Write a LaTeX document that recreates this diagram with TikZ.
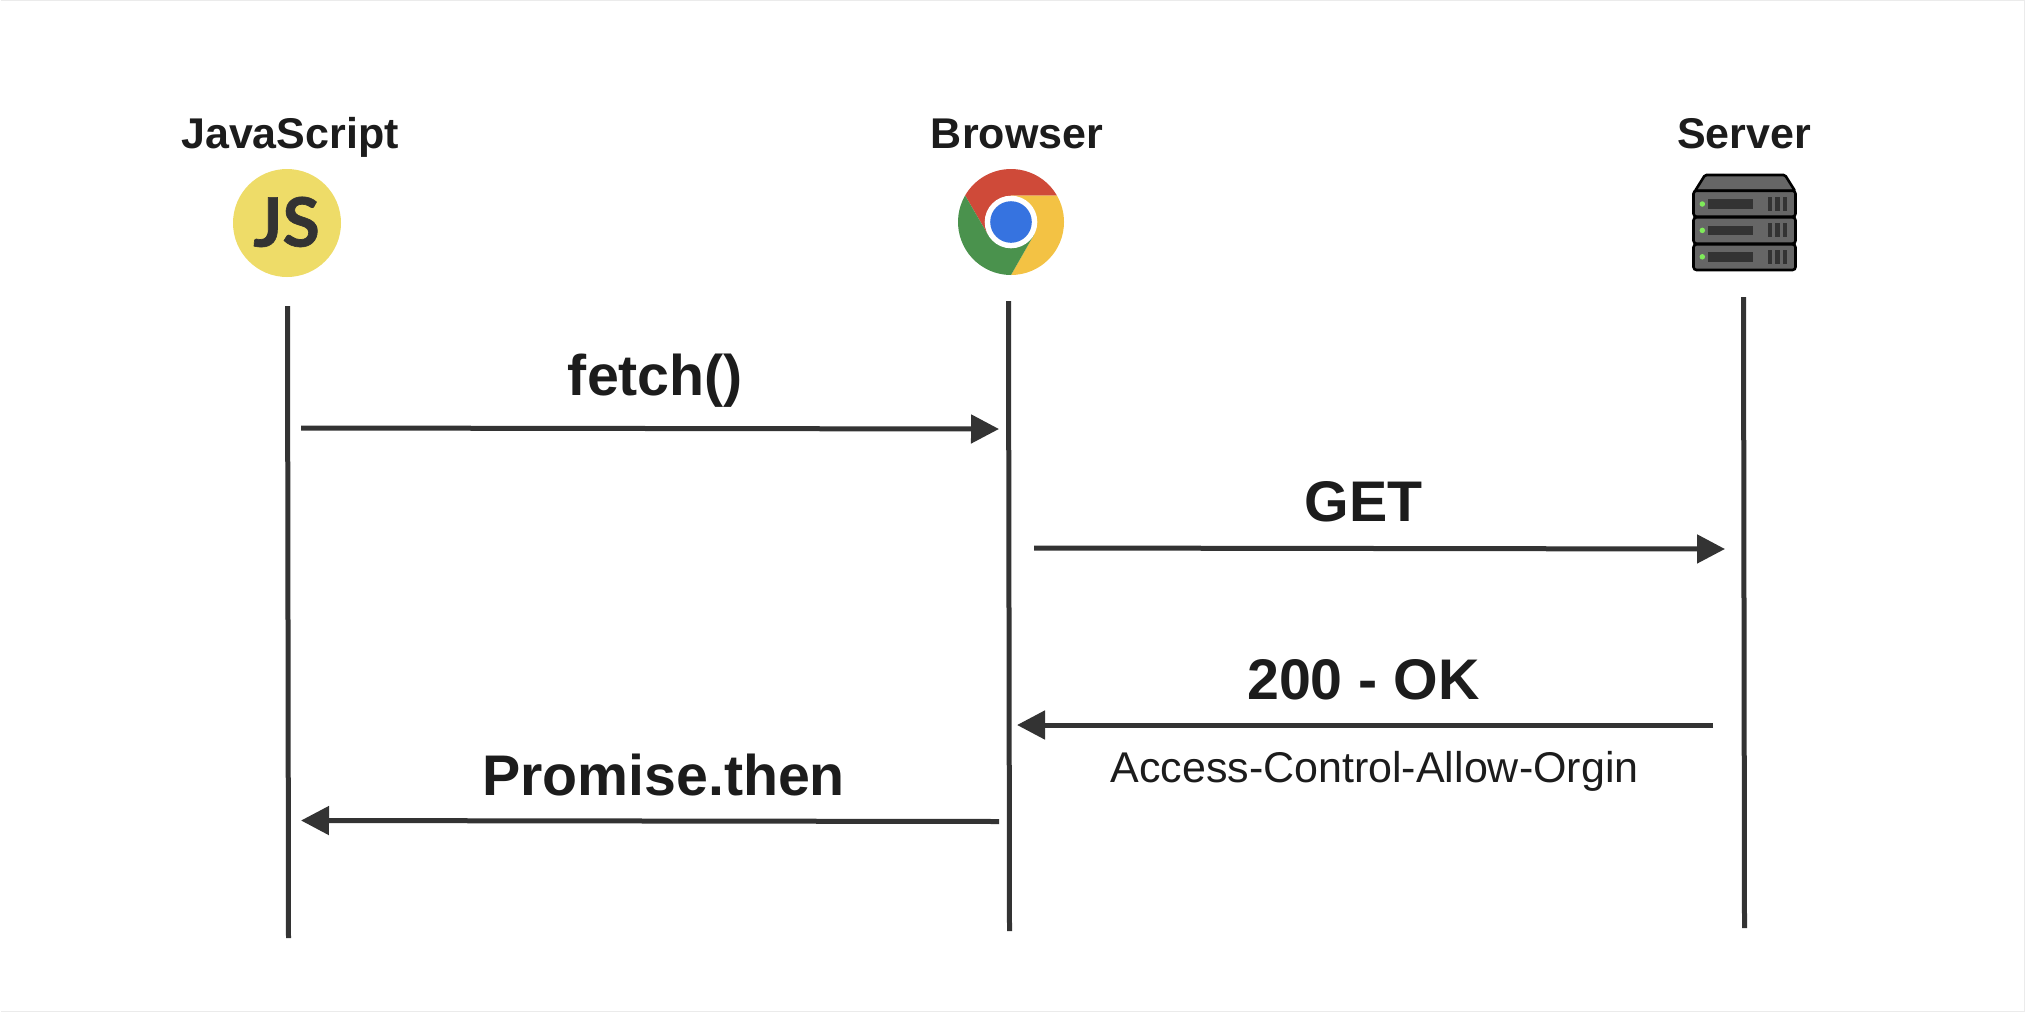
\documentclass[tikz,border=0pt]{standalone}
\usepackage{fontspec}
\setmainfont{Liberation Sans}
\newfontfamily\jsfont[FakeBold=1]{Lato Bold}
\usetikzlibrary{arrows.meta}
\definecolor{ink}{HTML}{1C1C1C}
\definecolor{wire}{HTML}{333333}
\definecolor{jsyellow}{HTML}{EEDC68}
\definecolor{chred}{HTML}{CF4A39}
\definecolor{chyellow}{HTML}{F3C244}
\definecolor{chgreen}{HTML}{4A924D}
\definecolor{chblue}{HTML}{3673E0}
\definecolor{srvgrey}{HTML}{666666}
\definecolor{srvdark}{HTML}{333333}
\definecolor{srvled}{HTML}{7FEA5A}
\tikzset{
  x=1pt,y=-1pt,
  actorlabel/.style={font=\fontsize{43}{50}\selectfont\bfseries,text=ink,anchor=base,inner sep=0pt},
  msglabel/.style={font=\fontsize{57.3}{66}\selectfont\bfseries,text=ink,anchor=base,inner sep=0pt},
  sublabel/.style={font=\fontsize{43}{50}\selectfont,text=ink,anchor=base,inner sep=0pt},
  lifeline/.style={draw=wire,line width=5pt},
  message/.style={draw=wire,line width=5pt,-{Triangle[length=28pt,width=28pt]}},
  srvbox/.style={draw=black,line width=2.6pt,fill=srvgrey,rounded corners=3pt},
  srvbar/.style={fill=srvdark},
  srvdot/.style={fill=srvled,circle,inner sep=0pt,minimum size=5.5pt}
}
\begin{document}
\begin{tikzpicture}
\useasboundingbox (0,0) rectangle (2026,1012);
\fill[white] (0,0) rectangle (2026,1012);
\draw[draw=black!8,line width=1.5pt] (0.5,0.5) -- (2024.5,0.5) -- (2024.5,1011.5) -- (0.5,1011.5);

% actor labels
\node[actorlabel] (jslabel) at (290,148.5) {JavaScript};
\node[actorlabel] (brlabel) at (1017,148.5) {Browser};
\node[actorlabel] (svlabel) at (1744,148.5) {Server};

% JS icon
\node[circle,fill=jsyellow,minimum size=108pt,inner sep=0pt] (jsicon) at (287,223) {};
\node[inner sep=0pt,anchor=base,text=wire,font=\fontsize{68}{70}\jsfont] (jstext) at (286.5,246.5) {JS};

% Chrome icon
\begin{scope}[shift={(1011,222)},y=1pt]
  \fill[chred] (30:53pt) arc[start angle=30,end angle=150,radius=53pt] -- (210:26.3pt) -- (0,0) -- (90:26.3pt) -- cycle;
  \fill[chyellow] (-90:53pt) arc[start angle=-90,end angle=30,radius=53pt] -- (90:26.3pt) -- (0,0) -- (330:26.3pt) -- cycle;
  \fill[chgreen] (150:53pt) arc[start angle=150,end angle=270,radius=53pt] -- (330:26.3pt) -- (0,0) -- (210:26.3pt) -- cycle;
  \fill[white] (0,0) circle[radius=26.3pt];
  \fill[chblue] (0,0) circle[radius=20.8pt];
\end{scope}

% Server icon
\draw[srvbox,rounded corners=1.5pt] (1695,191) -- (1705,175) -- (1785,175) -- (1795,191) -- cycle;
\foreach \t/\b/\m in {190.7/216.7/204,217.3/243.7/230.4,244.3/270/256.8}{
  \draw[srvbox] (1693.5,\t) rectangle (1795.5,\b);
  \node[srvdot] at (1702.3,\m) {};
  \fill[srvbar] (1708,\m-4.9) rectangle (1752.5,\m+4.9);
  \fill[srvbar] (1768,\m-7) rectangle (1772.3,\m+7);
  \fill[srvbar] (1775.4,\m-7) rectangle (1779.7,\m+7);
  \fill[srvbar] (1782.7,\m-7) rectangle (1787,\m+7);
}

% lifelines
\coordinate (jstop) at (287.5,306);
\coordinate (jsbot) at (288.5,938);
\coordinate (brtop) at (1008.5,301);
\coordinate (brbot) at (1009.5,931);
\coordinate (svtop) at (1743.5,297);
\coordinate (svbot) at (1744.5,928);
\draw[lifeline] (jstop) -- (jsbot);
\draw[lifeline] (brtop) -- (brbot);
\draw[lifeline] (svtop) -- (svbot);

% messages
\coordinate (m1a) at (301,428);
\coordinate (m1b) at (999,429);
\coordinate (m2a) at (1034,548);
\coordinate (m2b) at (1725,549);
\coordinate (m3a) at (1713,725);
\coordinate (m3b) at (1017,725);
\coordinate (m4a) at (999,821.5);
\coordinate (m4b) at (301,820.5);
\draw[message] (m1a) -- (m1b);
\draw[message] (m2a) -- (m2b);
\draw[message] (m3a) -- (m3b);
\draw[message] (m4a) -- (m4b);

\node[msglabel] (fetchlabel) at (655.5,395) {fetch()};
\node[msglabel] (getlabel) at (1363.5,521) {GET};
\node[msglabel] (oklabel) at (1363.5,699) {200 - OK};
\node[sublabel] (acalabel) at (1374.5,782) {Access-Control-Allow-Orgin};
\node[msglabel] (thenlabel) at (663.5,795) {Promise.then};
\end{tikzpicture}
\end{document}
